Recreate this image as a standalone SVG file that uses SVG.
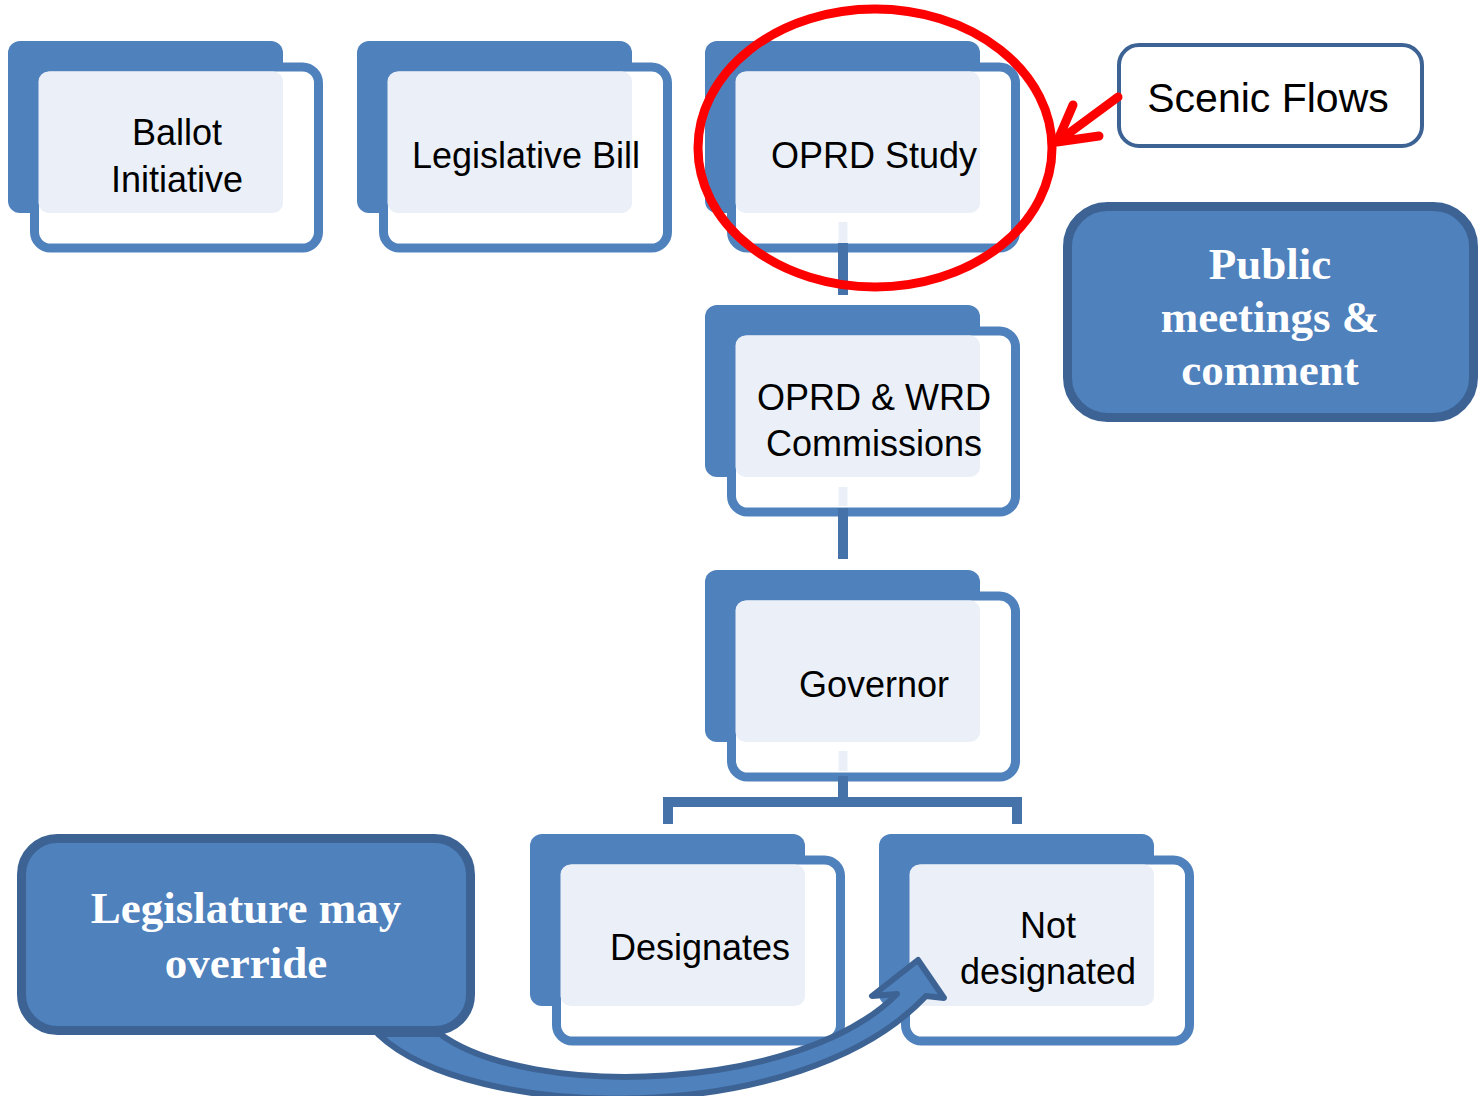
<svg xmlns="http://www.w3.org/2000/svg" width="1480" height="1096" viewBox="0 0 1480 1096">
<defs>
<style>
.back{fill:#4f81bd}
.front{fill:#ffffff;stroke:#4f81bd;stroke-width:9}
.light{fill:#ebf0f8}
.t{font-family:"Liberation Sans",Arial,sans-serif;font-size:36px;fill:#000;text-anchor:middle}
.bt{font-family:"Liberation Serif","Times New Roman",serif;font-weight:bold;font-size:45px;fill:#fff;text-anchor:middle}
.callout{fill:#4f81bd;stroke:#3d6394;stroke-width:9}
.conn{fill:none;stroke:#4672aa;stroke-width:10}
.connlight{fill:none;stroke:#ebf0f8;stroke-width:9}
.red{fill:none;stroke:#ff0000;stroke-width:9;stroke-linecap:round;stroke-linejoin:round}
</style>
</defs>
<rect width="1480" height="1096" fill="#ffffff"/>

<g id="node-ballot" transform="translate(8,41)">
<rect class="back" x="0" y="0" width="275" height="172" rx="12"/>
<rect class="front" x="26.5" y="26" width="284" height="181" rx="16"/>
<rect class="light" x="30.5" y="30.5" width="244.5" height="141.5" rx="10"/>
<text class="t" x="169" y="104">Ballot</text>
<text class="t" x="169" y="151">Initiative</text>
</g>

<g id="node-bill" transform="translate(357,41)">
<rect class="back" x="0" y="0" width="275" height="172" rx="12"/>
<rect class="front" x="26.5" y="26" width="284" height="181" rx="16"/>
<rect class="light" x="30.5" y="30.5" width="244.5" height="141.5" rx="10"/>
<text class="t" x="169" y="127">Legislative Bill</text>
</g>

<g id="node-study" transform="translate(705,41)">
<rect class="back" x="0" y="0" width="275" height="172" rx="12"/>
<rect class="front" x="26.5" y="26" width="284" height="181" rx="16"/>
<rect class="light" x="30.5" y="30.5" width="244.5" height="141.5" rx="10"/>
<text class="t" x="169" y="127">OPRD Study</text>
</g>

<g id="node-commissions" transform="translate(705,305)">
<rect class="back" x="0" y="0" width="275" height="172" rx="12"/>
<rect class="front" x="26.5" y="26" width="284" height="181" rx="16"/>
<rect class="light" x="30.5" y="30.5" width="244.5" height="141.5" rx="10"/>
<text class="t" x="169" y="105">OPRD &amp; WRD</text>
<text class="t" x="169" y="151">Commissions</text>
</g>

<g id="node-governor" transform="translate(705,570)">
<rect class="back" x="0" y="0" width="275" height="172" rx="12"/>
<rect class="front" x="26.5" y="26" width="284" height="181" rx="16"/>
<rect class="light" x="30.5" y="30.5" width="244.5" height="141.5" rx="10"/>
<text class="t" x="169" y="127">Governor</text>
</g>

<g id="node-designates" transform="translate(530,834)">
<rect class="back" x="0" y="0" width="275" height="172" rx="12"/>
<rect class="front" x="26.5" y="26" width="284" height="181" rx="16"/>
<rect class="light" x="30.5" y="30.5" width="244.5" height="141.5" rx="10"/>
<text class="t" x="170" y="126">Designates</text>
</g>

<g id="node-notdesignated" transform="translate(879,834)">
<rect class="back" x="0" y="0" width="275" height="172" rx="12"/>
<rect class="front" x="26.5" y="26" width="284" height="181" rx="16"/>
<rect class="light" x="30.5" y="30.5" width="244.5" height="141.5" rx="10"/>
<text class="t" x="169" y="104">Not</text>
<text class="t" x="169" y="150">designated</text>
</g>

<g id="connectors">
<path class="connlight" d="M843,222 V243"/>
<path class="conn" d="M843,243 V295"/>
<path class="connlight" d="M843,487 V506"/>
<path class="conn" d="M843,508 V559"/>
<path class="connlight" d="M843,751 V771"/>
<path class="conn" d="M843,776 V802"/>
<path class="conn" d="M668,824 V802 H1017 V824"/>
<path id="override-arrow" d="M378,1034 C470,1122 800,1130 926,996 L944,998 L918,960 L872,996 L897,994 C800,1092 530,1100 440,1034 Z" fill="#4f81bd" stroke="#3d6394" stroke-width="6" stroke-linejoin="round"/>
</g>

<g id="node-legislature">
<rect class="callout" x="21.5" y="838.5" width="449" height="192" rx="36"/>
<text class="bt" x="246" y="923" font-size="46">Legislature may</text>
<text class="bt" x="246" y="978" font-size="46">override</text>
</g>

<g id="node-public">
<rect class="callout" x="1067.5" y="206.5" width="406" height="211" rx="40"/>
<text class="bt" x="1270" y="279">Public</text>
<text class="bt" x="1270" y="332">meetings &amp;</text>
<text class="bt" x="1270" y="385">comment</text>
</g>

<g id="node-scenic">
<rect x="1119" y="45" width="303" height="101" rx="20" fill="#ffffff" stroke="#3d6394" stroke-width="4"/>
<text x="1268" y="112" font-family="Liberation Sans, Arial, sans-serif" font-size="41" text-anchor="middle" fill="#000">Scenic Flows</text>
</g>

<g id="highlight">
<ellipse class="red" cx="875" cy="148" rx="177" ry="139"/>
<path class="red" d="M1118,97 L1057,142 M1073,105 L1057,142 L1099,136"/>
</g>
</svg>
